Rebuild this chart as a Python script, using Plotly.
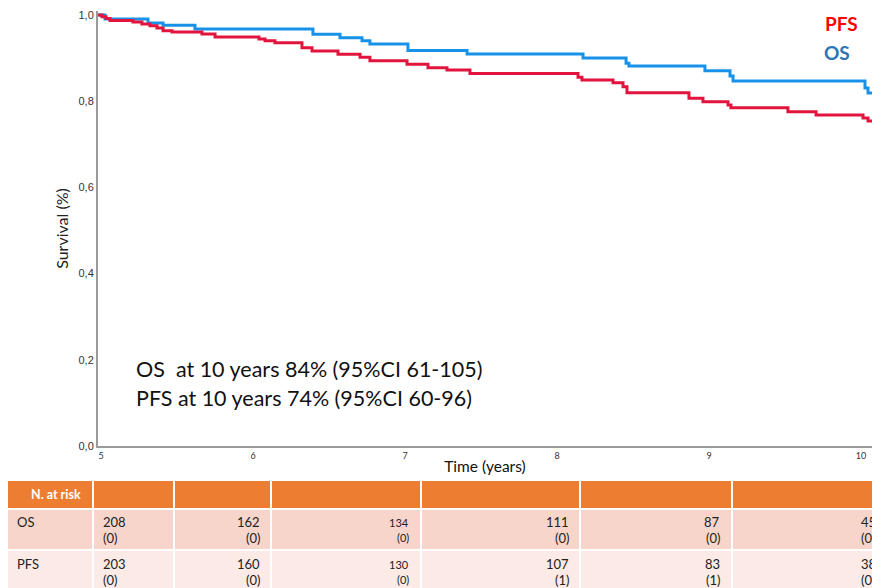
import plotly.graph_objects as go

# ---------------- data ----------------
os_time = [5.0, 5.046, 5.329, 5.428, 5.638, 6.414, 6.592, 6.737, 6.789, 7.039, 7.428,
           8.191, 8.474, 8.493, 8.993, 9.158, 9.178, 10.046, 10.066, 10.1]
os_surv = [1.0, 0.9907, 0.9814, 0.9761, 0.9675, 0.9552, 0.9473, 0.9404, 0.9327, 0.9176, 0.9095,
           0.9002, 0.888, 0.8817, 0.8708, 0.8585, 0.8469, 0.8306, 0.819, 0.819]

pfs_time = [5.0, 5.026, 5.053, 5.079, 5.230, 5.289, 5.342, 5.388, 5.428, 5.487, 5.684, 5.770,
            6.059, 6.099, 6.164, 6.342, 6.408, 6.579, 6.724, 6.789, 7.033, 7.171, 7.296, 7.447,
            8.158, 8.184, 8.388, 8.454, 8.480, 8.888, 8.980, 9.145, 9.164, 9.539, 9.724,
            10.033, 10.066, 10.1]
pfs_surv = [1.0, 0.996, 0.992, 0.987, 0.9838, 0.9791, 0.9752, 0.9698, 0.9636, 0.9606, 0.9559, 0.9490,
            0.9443, 0.9404, 0.9357, 0.9241, 0.9165, 0.9088, 0.9018, 0.8940, 0.8856, 0.8777, 0.8724, 0.8643,
            0.8555, 0.8492, 0.8429, 0.8336, 0.8197, 0.8067, 0.7988, 0.7912, 0.7850, 0.7756, 0.7680,
            0.7610, 0.7540, 0.7540]

y_ticks = [0.0, 0.2, 0.4, 0.6, 0.8, 1.0]
y_tick_labels = ["0,0", "0,2", "0,4", "0,6", "0,8", "1,0"]
x_ticks = [5, 6, 7, 8, 9, 10]

risk_times = [5, 6, 7, 8, 9, 10]
os_at_risk = [208, 162, 134, 111, 87, 45]
os_paren = [0, 0, 0, 0, 0, 0]
pfs_at_risk = [203, 160, 130, 107, 83, 38]
pfs_paren = [0, 0, 0, 1, 1, 0]

summary_lines = ["OS  at 10 years 84% (95%CI 61-105)",
                 "PFS at 10 years 74% (95%CI 60-96)"]

# ---------------- styling ----------------
BLUE = "rgb(24,146,232)"
RED = "rgb(226,20,62)"
FONT = "Lato, 'Liberation Sans', Arial, sans-serif"

W, H = 872, 588
ML, MR, MT, MB = 98, 0, 11, 142
PX0 = 98.0      # pixel of x=5
PXS = 152.0     # pixels per year
PY0 = 446.0     # pixel of y=0
PYS = 431.0     # pixels per unit survival

x_range = [5.0, 5.0 + (W - MR - PX0) / PXS]
y_range = [0.0, (PY0 - MT) / PYS]


def pxp(px):
    return (px - ML) / (W - ML - MR)


def pyp(py):
    return (PY0 - py) / (H - MT - MB)


fig = go.Figure()
fig.add_trace(go.Scatter(x=os_time, y=os_surv, mode="lines", line_shape="hv",
                         line=dict(color=BLUE, width=3), name="OS", showlegend=False))
fig.add_trace(go.Scatter(x=pfs_time, y=pfs_surv, mode="lines", line_shape="hv",
                         line=dict(color=RED, width=3), name="PFS", showlegend=False))

shapes = []
annotations = []

# legend-like labels
annotations.append(dict(x=pxp(823), y=pyp(24), xref="paper", yref="paper", text="<b>PFS</b>",
                        showarrow=False, xanchor="left", yanchor="middle",
                        font=dict(family=FONT, size=19, color="#FF0000")))
annotations.append(dict(x=pxp(822), y=pyp(53), xref="paper", yref="paper", text="<b>OS</b>",
                        showarrow=False, xanchor="left", yanchor="middle",
                        font=dict(family=FONT, size=19, color="#2E75B6")))

# summary text
for i, line in enumerate(summary_lines):
    annotations.append(dict(x=pxp(134), y=pyp(369 + 28.5 * i), xref="paper", yref="paper", text=line,
                            showarrow=False, xanchor="left", yanchor="middle",
                            font=dict(family=FONT, size=21.5, color="#111111")))

# ---------------- number-at-risk table ----------------
col_edges = [(8, 92), (94, 173), (175, 270), (272, 420), (422, 579), (581, 731), (733, 900)]
row_edges = [(481, 508), (510, 549), (551, 590)]
row_fills = ["#ED7D31", "#F8D5CA", "#FBEAE5"]

for (ry0, ry1), fill in zip(row_edges, row_fills):
    for cx0, cx1 in col_edges:
        shapes.append(dict(type="rect", xref="paper", yref="paper",
                           x0=pxp(cx0), x1=pxp(cx1), y0=pyp(ry1), y1=pyp(ry0),
                           fillcolor=fill, line=dict(width=0), layer="above"))

annotations.append(dict(x=pxp(83), y=pyp(494), xref="paper", yref="paper", text="<b>N. at risk</b>",
                        showarrow=False, xanchor="right", yanchor="middle",
                        font=dict(family=FONT, size=12.5, color="white")))
annotations.append(dict(x=pxp(15), y=pyp(522), xref="paper", yref="paper", text="OS",
                        showarrow=False, xanchor="left", yanchor="middle",
                        font=dict(family=FONT, size=13, color="#222")))
annotations.append(dict(x=pxp(15), y=pyp(564), xref="paper", yref="paper", text="PFS",
                        showarrow=False, xanchor="left", yanchor="middle",
                        font=dict(family=FONT, size=13, color="#222")))

text_x = [(101, "left"), (262, "right"), (411, "right"), (571, "right"), (722, "right"), (859, "left")]
text_size = [13, 13, 11, 13, 13, 13]
for j, t in enumerate(risk_times):
    tx, anc = text_x[j]
    for (vals, parens, py1) in [(os_at_risk, os_paren, 522), (pfs_at_risk, pfs_paren, 564)]:
        annotations.append(dict(x=pxp(tx), y=pyp(py1), xref="paper", yref="paper", text=str(vals[j]),
                                showarrow=False, xanchor=anc, yanchor="middle",
                                font=dict(family=FONT, size=text_size[j], color="#222")))
        annotations.append(dict(x=pxp(tx), y=pyp(py1 + 15.5), xref="paper", yref="paper",
                                text="(%d)" % parens[j],
                                showarrow=False, xanchor=anc, yanchor="middle",
                                font=dict(family=FONT, size=text_size[j], color="#222")))

fig.update_layout(
    width=W, height=H,
    margin=dict(l=ML, r=MR, t=MT, b=MB, pad=0),
    paper_bgcolor="white", plot_bgcolor="white",
    shapes=shapes, annotations=annotations,
    showlegend=False,
    font=dict(family=FONT, color="#222"),
)
fig.update_xaxes(range=x_range, tickvals=x_ticks, ticktext=[str(v) for v in x_ticks],
                 showgrid=False, zeroline=False, showline=True, linecolor="#9a9a9a", linewidth=2,
                 ticks="", tickfont=dict(family=FONT, size=9, color="#333"), ticklabelshift=3,
                 title=dict(text="Time (years)", font=dict(family=FONT, size=15.5, color="#111"), standoff=1))
fig.update_yaxes(range=y_range, tickvals=y_ticks, ticktext=y_tick_labels,
                 showgrid=False, zeroline=False, showline=True, linecolor="#9a9a9a", linewidth=2,
                 ticks="", tickfont=dict(family="'Liberation Sans', Arial, sans-serif", size=11, color="#333"),
                 title=dict(text="Survival (%)", font=dict(family=FONT, size=16, color="#222"), standoff=6))

fig.write_html("out.html", config={"displayModeBar": False},
               post_script="document.body.style.margin='0';document.body.style.overflow='hidden';")
